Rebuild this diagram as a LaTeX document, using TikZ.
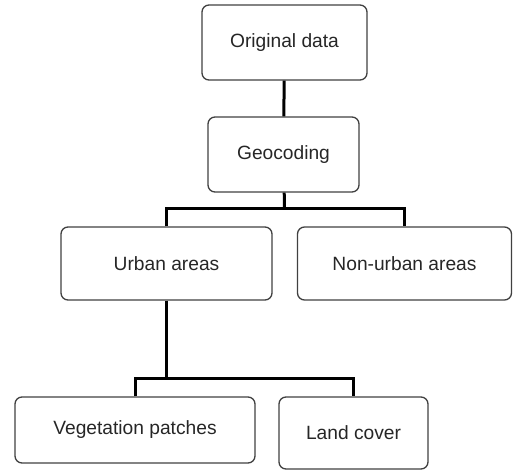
\documentclass[tikz,border=0pt]{standalone}
\usepackage{fontspec}
\setmainfont{Liberation Sans}
\begin{document}
\begin{tikzpicture}[x=1pt,y=-1pt,
  box/.style={draw=black!75, line width=1.3pt, rounded corners=7pt, inner sep=0pt,
    font=\fontsize{19.2}{22}\selectfont, text=black!85},
  link/.style={line width=3pt, line join=miter}]
\useasboundingbox (0,0) rectangle (513,473);
\node[box, minimum width=165pt, minimum height=75pt] (orig) at (284.5,42.5) {Original data};
\node[box, minimum width=151pt, minimum height=75pt] (geo) at (283.5,154.5) {Geocoding};
\node[box, minimum width=211pt, minimum height=73pt] (urban) at (166.5,263.5) {Urban areas};
\node[box, minimum width=214pt, minimum height=73pt] (nonurban) at (404.5,263.5) {Non-urban areas};
\node[box, minimum width=240pt, minimum height=66pt] (veg) at (135,430) {Vegetation patches};
\node[box, minimum width=149pt, minimum height=72pt] (land) at (353.5,433) {Land cover};
\coordinate (j1) at (284.5,208);
\coordinate (j2) at (166.5,378);
\draw[link] (orig) -- (geo);
\draw[link] (geo) -- (j1);
\draw[link] (urban.north) |- (j1) -| (nonurban.north);
\draw[link] (urban) -- (j2);
\draw[link] (veg.north) |- (j2) -| (land.north);
\end{tikzpicture}
\end{document}
